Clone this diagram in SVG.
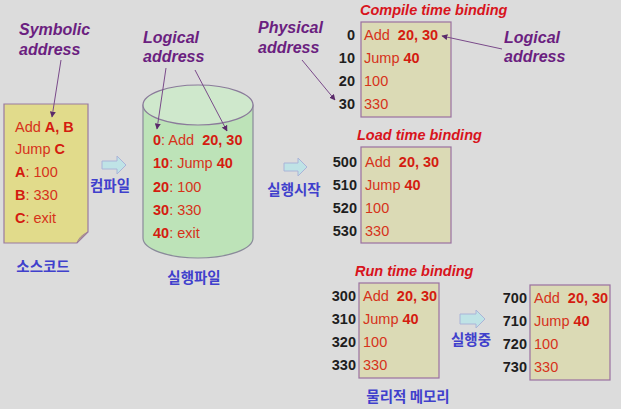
<svg xmlns="http://www.w3.org/2000/svg" width="621" height="409" viewBox="0 0 621 409">
<defs>
<style>
.bg{fill:#dcdcdc}
.t{font-family:"Liberation Sans",Arial,sans-serif;font-size:14.5px;fill:#d6321a}
.b{font-weight:bold;fill:#d41c10}
.num{font-family:"Liberation Sans",Arial,sans-serif;font-size:14.5px;font-weight:bold;fill:#1e1e1e;text-anchor:end}
.lbl{font-family:"Liberation Sans",Arial,sans-serif;font-size:16px;font-weight:bold;font-style:italic;fill:#6b1f80}
.ttl{font-family:"Liberation Sans",Arial,sans-serif;font-size:14.5px;font-weight:bold;font-style:italic;fill:#d8141c}
.kr{font-family:"Noto Sans CJK KR","Noto Sans",sans-serif;font-size:14.5px;font-weight:bold;fill:#4040cc;text-anchor:middle}
.mem{fill:#dbdab5;stroke:#9a70a0;stroke-width:1.2}
.ptr{stroke:#7a4a8a;stroke-width:1;fill:none;marker-end:url(#ah)}
.blk{fill:#bfe3e6;stroke:#aab4d8;stroke-width:1}
</style>
<marker id="ah" viewBox="0 0 10 10" refX="9" refY="5" markerWidth="6" markerHeight="6" orient="auto" markerUnits="userSpaceOnUse">
<path d="M0,0 L10,5 L0,10 Z" fill="#5a2a6a"/>
</marker>
</defs>
<rect class="bg" x="0" y="0" width="621" height="409"/>

<g id="source-code">
<path d="M4,104 H88 V232 L77,243 H4 Z" fill="#e1db8b" stroke="#9a7aa0" stroke-width="1.2"/>
<path d="M88,232 Q82,236 77,243 Q79,236 88,232 Z" fill="#c8bf6a" stroke="#9a7aa0" stroke-width="0.8"/>
<text class="t" x="15" y="132">Add <tspan class="b">A, B</tspan></text>
<text class="t" x="15" y="154">Jump <tspan class="b">C</tspan></text>
<text class="t" x="15" y="177"><tspan class="b">A</tspan>: 100</text>
<text class="t" x="15" y="200"><tspan class="b">B</tspan>: 330</text>
<text class="t" x="15" y="223"><tspan class="b">C</tspan>: exit</text>
<text class="kr" x="43" y="272">소스코드</text>
</g>

<g id="symbolic-label">
<text class="lbl" x="19" y="35">Symbolic</text>
<text class="lbl" x="19" y="55">address</text>
</g>

<g id="executable">
<path d="M143,105 V238 A55,20 0 0 0 253,238 V105 Z" fill="#bde3b8" stroke="#8a8a9a" stroke-width="1.2"/>
<ellipse cx="198" cy="105" rx="55" ry="20" fill="#cfe8cc" stroke="#8a7a9a" stroke-width="1.2"/>
<text class="t" x="153" y="145"><tspan class="b">0</tspan>: Add <tspan class="b" dx="4">20, 30</tspan></text>
<text class="t" x="153" y="168"><tspan class="b">10</tspan>: Jump <tspan class="b">40</tspan></text>
<text class="t" x="153" y="192"><tspan class="b">20</tspan>: 100</text>
<text class="t" x="153" y="215"><tspan class="b">30</tspan>: 330</text>
<text class="t" x="153" y="238"><tspan class="b">40</tspan>: exit</text>
<text class="kr" x="194" y="283">실행파일</text>
</g>

<g id="logical-label-1">
<text class="lbl" x="143" y="43">Logical</text>
<text class="lbl" x="143" y="62">address</text>
</g>

<g id="physical-label">
<text class="lbl" x="258" y="33">Physical</text>
<text class="lbl" x="258" y="53">address</text>
</g>

<g id="logical-label-2">
<text class="lbl" x="504" y="43">Logical</text>
<text class="lbl" x="504" y="62">address</text>
</g>

<g id="compile-time">
<text class="ttl" x="360" y="15">Compile time binding</text>
<rect class="mem" x="361" y="22" width="90" height="95"/>
<text class="num" x="355" y="40">0</text>
<text class="num" x="355" y="63">10</text>
<text class="num" x="355" y="86">20</text>
<text class="num" x="355" y="109">30</text>
<text class="t" x="364" y="40">Add <tspan class="b" dx="4">20, 30</tspan></text>
<text class="t" x="364" y="63">Jump <tspan class="b">40</tspan></text>
<text class="t" x="364" y="86">100</text>
<text class="t" x="364" y="109">330</text>
</g>

<g id="load-time">
<text class="ttl" x="357" y="140">Load time binding</text>
<rect class="mem" x="361" y="147" width="90" height="96"/>
<text class="num" x="357" y="167">500</text>
<text class="num" x="357" y="190">510</text>
<text class="num" x="357" y="213">520</text>
<text class="num" x="357" y="236">530</text>
<text class="t" x="365" y="167">Add <tspan class="b" dx="4">20, 30</tspan></text>
<text class="t" x="365" y="190">Jump <tspan class="b">40</tspan></text>
<text class="t" x="365" y="213">100</text>
<text class="t" x="365" y="236">330</text>
</g>

<g id="run-time-before">
<text class="ttl" x="355" y="276">Run time binding</text>
<rect class="mem" x="359" y="283" width="80" height="95"/>
<text class="num" x="356" y="301">300</text>
<text class="num" x="356" y="324">310</text>
<text class="num" x="356" y="347">320</text>
<text class="num" x="356" y="370">330</text>
<text class="t" x="363" y="301">Add <tspan class="b" dx="4">20, 30</tspan></text>
<text class="t" x="363" y="324">Jump <tspan class="b">40</tspan></text>
<text class="t" x="363" y="347">100</text>
<text class="t" x="363" y="370">330</text>
<text class="kr" x="408" y="402">물리적 메모리</text>
</g>

<g id="run-time-after">
<rect class="mem" x="530" y="285" width="80" height="95"/>
<text class="num" x="527" y="303">700</text>
<text class="num" x="527" y="326">710</text>
<text class="num" x="527" y="349">720</text>
<text class="num" x="527" y="372">730</text>
<text class="t" x="534" y="303">Add <tspan class="b" dx="4">20, 30</tspan></text>
<text class="t" x="534" y="326">Jump <tspan class="b">40</tspan></text>
<text class="t" x="534" y="349">100</text>
<text class="t" x="534" y="372">330</text>
</g>

<g id="connectors">
<line class="ptr" x1="61" y1="60" x2="52" y2="117"/>
<line class="ptr" x1="166" y1="68" x2="157" y2="129"/>
<line class="ptr" x1="195" y1="70" x2="227" y2="131"/>
<line class="ptr" x1="302" y1="60" x2="335" y2="100"/>
<line class="ptr" x1="502" y1="49" x2="442" y2="36"/>
<path class="blk" d="M102,161 H117 V156 L126,165 L117,174 V169 H102 Z"/>
<text class="kr" x="110" y="191">컴파일</text>
<path class="blk" d="M284,163 H298 V158 L307,167 L298,176 V171 H284 Z"/>
<text class="kr" x="294" y="195">실행시작</text>
<path class="blk" d="M460,314 H476 V310 L485,319 L476,328 V324 H460 Z"/>
<text class="kr" x="471" y="345">실행중</text>
</g>
</svg>
